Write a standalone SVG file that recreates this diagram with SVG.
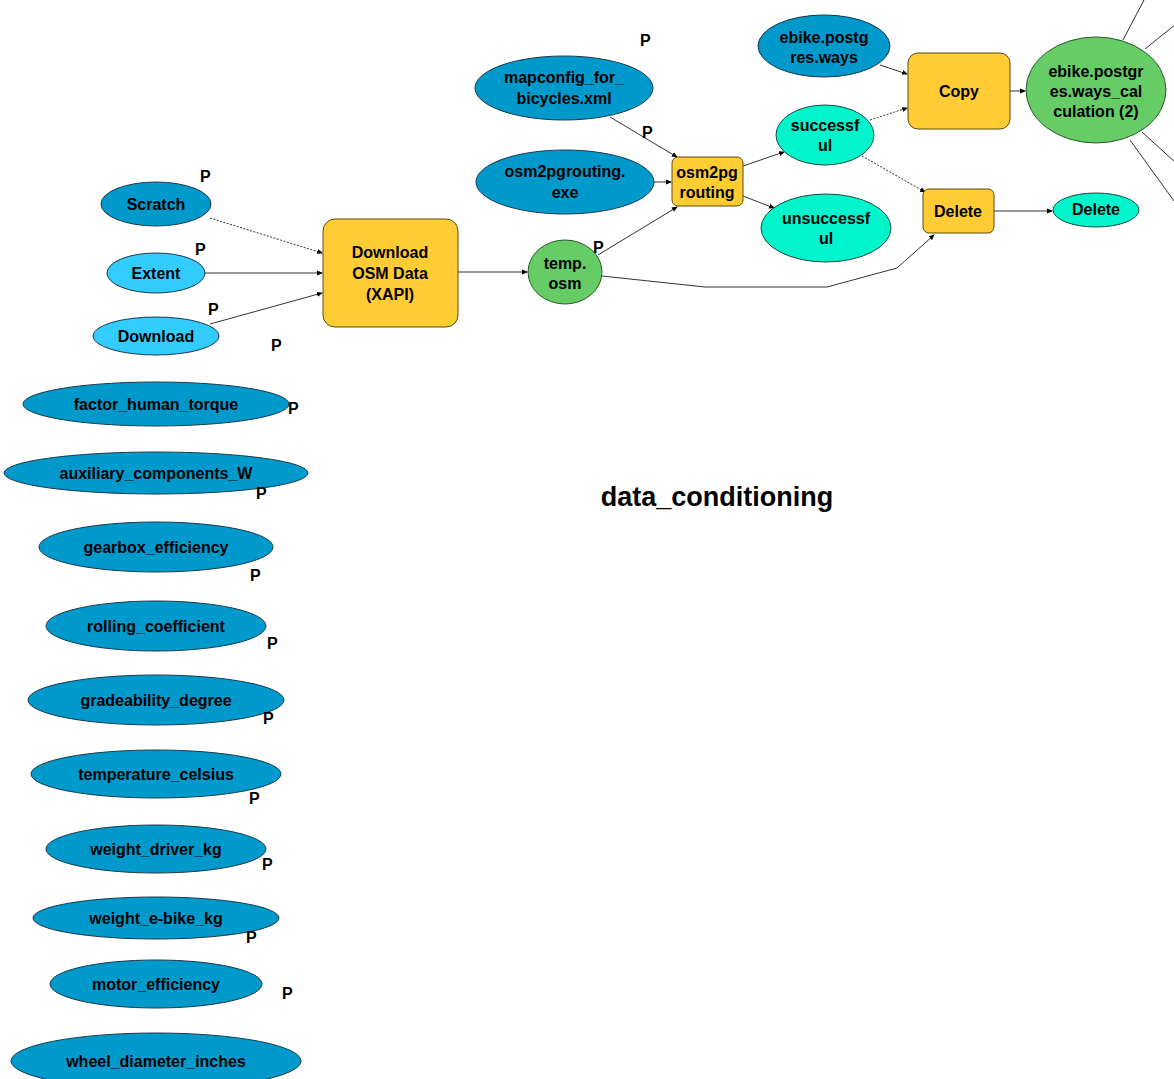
<svg xmlns="http://www.w3.org/2000/svg" width="1174" height="1079" viewBox="0 0 1174 1079">
<defs>
<marker id="arr" markerWidth="6" markerHeight="6" refX="5" refY="3" orient="auto" markerUnits="userSpaceOnUse">
<path d="M0,0.5 L6,3 L0,5.5 Z" fill="#000"/>
</marker>
<style>
text{font-family:"Liberation Sans",Arial,sans-serif;font-weight:bold;fill:#000}
.t{font-size:16px;text-anchor:middle}
.p{font-size:16px}
.dk{fill:#0099CC;stroke:#1a3a4a;stroke-width:1}
.lt{fill:#33CCFF;stroke:#1a3a4a;stroke-width:1}
.gr{fill:#66CC66;stroke:#2a5a2a;stroke-width:1}
.aq{fill:#00F5CC;stroke:#1a4a40;stroke-width:1}
.yl{fill:#FFCC33;stroke:#5a4a10;stroke-width:1}
.c{fill:none;stroke:#333;stroke-width:1}
.d{fill:none;stroke:#333;stroke-width:1;stroke-dasharray:2,1.5}
</style>
</defs>
<rect width="1174" height="1079" fill="#fff"/>

<g id="connectors">
<line class="d" x1="210" y1="218" x2="322" y2="253" marker-end="url(#arr)"/>
<line class="c" x1="205" y1="273" x2="322" y2="273" marker-end="url(#arr)"/>
<line class="c" x1="210" y1="324" x2="322" y2="293" marker-end="url(#arr)"/>
<line class="c" x1="458" y1="272" x2="527" y2="272" marker-end="url(#arr)"/>
<line class="c" x1="598" y1="255" x2="677" y2="207" marker-end="url(#arr)"/>
<line class="c" x1="610" y1="117" x2="677" y2="157" marker-end="url(#arr)"/>
<line class="c" x1="654" y1="182" x2="671" y2="182" marker-end="url(#arr)"/>
<line class="c" x1="743" y1="166" x2="784" y2="152" marker-end="url(#arr)"/>
<line class="c" x1="743" y1="196" x2="774" y2="208" marker-end="url(#arr)"/>
<line class="c" x1="880" y1="65" x2="907" y2="74" marker-end="url(#arr)"/>
<line class="d" x1="870" y1="120" x2="907" y2="108" marker-end="url(#arr)"/>
<line class="d" x1="862" y1="156" x2="925" y2="192" marker-end="url(#arr)"/>
<polyline class="c" points="602,276 705,287 827,287 897,268 934,235" marker-end="url(#arr)"/>
<line class="c" x1="994" y1="211" x2="1052" y2="211" marker-end="url(#arr)"/>
<line class="c" x1="1010" y1="91" x2="1025" y2="91" marker-end="url(#arr)"/>
<line class="c" x1="1123" y1="40" x2="1144" y2="0"/>
<line class="c" x1="1145" y1="49" x2="1176" y2="24"/>
<line class="c" x1="1142" y1="132" x2="1176" y2="163"/>
<line class="c" x1="1130" y1="140" x2="1174" y2="201"/>
</g>

<g id="n-scratch"><ellipse class="dk" cx="156" cy="204" rx="55" ry="22"/><text class="t" x="156" y="210">Scratch</text></g>
<g id="n-extent"><ellipse class="lt" cx="156" cy="273" rx="49" ry="20"/><text class="t" x="156" y="279">Extent</text></g>
<g id="n-download"><ellipse class="lt" cx="156" cy="336" rx="63" ry="19"/><text class="t" x="156" y="342">Download</text></g>
<g id="n-dl-osm"><rect class="yl" x="323" y="219" width="135" height="108" rx="12"/><text class="t" x="390" y="258">Download</text><text class="t" x="390" y="279">OSM Data</text><text class="t" x="390" y="300">(XAPI)</text></g>
<g id="n-temp-osm"><ellipse class="gr" cx="565" cy="272" rx="37" ry="32"/><text class="t" x="565" y="269">temp.</text><text class="t" x="565" y="289">osm</text></g>
<g id="n-mapconfig"><ellipse class="dk" cx="564" cy="88" rx="89" ry="32"/><text class="t" x="564" y="83">mapconfig_for_</text><text class="t" x="564" y="104">bicycles.xml</text></g>
<g id="n-osm2pgexe"><ellipse class="dk" cx="565" cy="182" rx="89" ry="32"/><text class="t" x="565" y="177">osm2pgrouting.</text><text class="t" x="565" y="198">exe</text></g>
<g id="n-osm2pg"><rect class="yl" x="672" y="157" width="71" height="49" rx="6"/><text class="t" x="707" y="178">osm2pg</text><text class="t" x="707" y="198">routing</text></g>
<g id="n-successful"><ellipse class="aq" cx="825" cy="135" rx="49" ry="30"/><text class="t" x="825" y="131">successf</text><text class="t" x="825" y="151">ul</text></g>
<g id="n-unsuccessful"><ellipse class="aq" cx="826" cy="228" rx="65" ry="34"/><text class="t" x="826" y="224">unsuccessf</text><text class="t" x="826" y="244">ul</text></g>
<g id="n-ebike-ways"><ellipse class="dk" cx="824" cy="46" rx="66" ry="31"/><text class="t" x="824" y="43">ebike.postg</text><text class="t" x="824" y="63">res.ways</text></g>
<g id="n-copy"><rect class="yl" x="908" y="53" width="102" height="76" rx="10"/><text class="t" x="959" y="97">Copy</text></g>
<g id="n-ebike-calc"><ellipse class="gr" cx="1096" cy="90" rx="70" ry="53"/><text class="t" x="1096" y="77">ebike.postgr</text><text class="t" x="1096" y="97">es.ways_cal</text><text class="t" x="1096" y="117">culation (2)</text></g>
<g id="n-delete-tool"><rect class="yl" x="923" y="189" width="71" height="44" rx="6"/><text class="t" x="958" y="217">Delete</text></g>
<g id="n-delete-out"><ellipse class="aq" cx="1096" cy="210" rx="43" ry="17"/><text class="t" x="1096" y="215">Delete</text></g>

<g id="n-factor"><ellipse class="dk" cx="156" cy="404" rx="133" ry="22"/><text class="t" x="156" y="410">factor_human_torque</text></g>
<g id="n-aux"><ellipse class="dk" cx="156" cy="473" rx="152" ry="21"/><text class="t" x="156" y="479">auxiliary_components_W</text></g>
<g id="n-gearbox"><ellipse class="dk" cx="156" cy="547" rx="117" ry="25"/><text class="t" x="156" y="553">gearbox_efficiency</text></g>
<g id="n-rolling"><ellipse class="dk" cx="156" cy="626" rx="110" ry="25"/><text class="t" x="156" y="632">rolling_coefficient</text></g>
<g id="n-grade"><ellipse class="dk" cx="156" cy="700" rx="128" ry="25"/><text class="t" x="156" y="706">gradeability_degree</text></g>
<g id="n-temp"><ellipse class="dk" cx="156" cy="774" rx="125" ry="24"/><text class="t" x="156" y="780">temperature_celsius</text></g>
<g id="n-driver"><ellipse class="dk" cx="156" cy="849" rx="110" ry="24"/><text class="t" x="156" y="855">weight_driver_kg</text></g>
<g id="n-ebike-kg"><ellipse class="dk" cx="156" cy="918" rx="123" ry="21"/><text class="t" x="156" y="924">weight_e-bike_kg</text></g>
<g id="n-motor"><ellipse class="dk" cx="156" cy="984" rx="106" ry="24"/><text class="t" x="156" y="990">motor_efficiency</text></g>
<g id="n-wheel"><ellipse class="dk" cx="156" cy="1061" rx="145" ry="28"/><text class="t" x="156" y="1067">wheel_diameter_inches</text></g>

<g id="p-labels">
<text class="p" x="200" y="182">P</text>
<text class="p" x="195" y="255">P</text>
<text class="p" x="208" y="315">P</text>
<text class="p" x="271" y="351">P</text>
<text class="p" x="288" y="414">P</text>
<text class="p" x="256" y="499">P</text>
<text class="p" x="250" y="581">P</text>
<text class="p" x="267" y="649">P</text>
<text class="p" x="263" y="724">P</text>
<text class="p" x="249" y="804">P</text>
<text class="p" x="262" y="870">P</text>
<text class="p" x="246" y="943">P</text>
<text class="p" x="282" y="999">P</text>
<text class="p" x="640" y="46">P</text>
<text class="p" x="642" y="138">P</text>
<text class="p" x="593" y="253">P</text>
</g>

<text x="717" y="506" style="font-size:27px;text-anchor:middle">data_conditioning</text>
</svg>
